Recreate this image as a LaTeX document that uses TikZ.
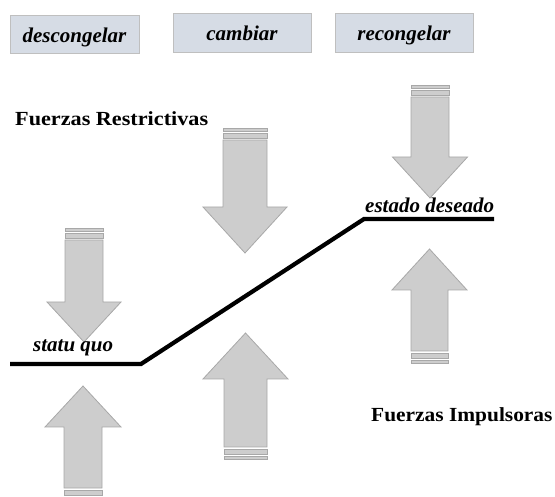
\documentclass[tikz,border=0pt]{standalone}
\usepackage{fontspec}
\setmainfont{Liberation Serif}
\definecolor{boxfill}{RGB}{214,220,229}
\definecolor{boxline}{RGB}{191,191,191}
\definecolor{arrfill}{RGB}{205,205,205}
\definecolor{arrline}{RGB}{168,168,168}
\newcommand\ForceDown[6]{% cx, shaft half width, shaft top y, head base y, head half width, tip y
  \draw[forcearrow] (#1-#2,#3-12) rectangle (#1+#2,#3-9);
  \draw[forcearrow] (#1-#2,#3-7) rectangle (#1+#2,#3-2);
  \draw[forcearrow] (#1-#2,#3) -- (#1-#2,#4) -- (#1-#5,#4) -- (#1,#6) -- (#1+#5,#4) -- (#1+#2,#4) -- (#1+#2,#3) -- cycle;}
\newcommand\ForceUp[6]{% cx, shaft half width, shaft bottom y, head base y, head half width, tip y
  \draw[forcearrow] (#1-#2,#3+2) rectangle (#1+#2,#3+7);
  \draw[forcearrow] (#1-#2,#3+9) rectangle (#1+#2,#3+12);
  \draw[forcearrow] (#1-#2,#3) -- (#1-#2,#4) -- (#1-#5,#4) -- (#1,#6) -- (#1+#5,#4) -- (#1+#2,#4) -- (#1+#2,#3) -- cycle;}
\begin{document}
\begin{tikzpicture}[x=1pt,y=-1pt,
  phasebox/.style={draw=boxline,fill=boxfill,line width=1pt,inner sep=0pt,
    text height=15pt,text depth=0pt,font=\fontsize{21}{24}\selectfont\bfseries\itshape},
  forcearrow/.style={draw=arrline,fill=arrfill,line width=0.8pt,line join=miter},
  statelabel/.style={anchor=base west,inner sep=0pt,font=\fontsize{21}{24}\selectfont\bfseries\itshape},
  forcelabel/.style={anchor=base west,inner sep=0pt,font=\fontsize{20}{24}\selectfont\bfseries},
  stateline/.style={line width=4.2pt,line join=miter}]
\useasboundingbox (0,0) rectangle (555,497);
\clip (0,0) rectangle (555,497);
% phase boxes
\node[phasebox,minimum width=129pt,minimum height=38pt] (unfreeze) at (74.5,35) {descongelar};
\node[phasebox,minimum width=138pt,minimum height=39pt] (change) at (242,33.5) {cambiar};
\node[phasebox,minimum width=138pt,minimum height=39pt] (refreeze) at (404,33.5) {recongelar};
% force labels
\node[forcelabel] (restr) at (15,126) {\scalebox{1.11}[1]{Fuerzas Restrictivas}};
\node[forcelabel] (impul) at (371,422) {\scalebox{1.07}[1]{Fuerzas Impulsoras}};
% arrows
\ForceDown{84}{19}{240}{302}{37}{342}
\ForceDown{245}{22}{140}{207}{42}{253}
\ForceDown{430}{19}{97}{157}{37.5}{198}
\ForceUp{83}{19}{488}{427}{38}{386}
\ForceUp{245.5}{21.5}{447}{379}{42.5}{333}
\ForceUp{429.5}{18.5}{351}{290}{37.5}{249}
% state line
\coordinate (sqstart) at (10,364);
\coordinate (sqend) at (141,364);
\coordinate (dsstart) at (364,219);
\coordinate (dsend) at (494,219);
\draw[stateline] (sqstart) -- (sqend) -- (dsstart) -- (dsend);
\node[statelabel] (statu) at (33,352) {statu quo};
\node[statelabel] (deseado) at (365,213) {estado deseado};
\end{tikzpicture}
\end{document}
